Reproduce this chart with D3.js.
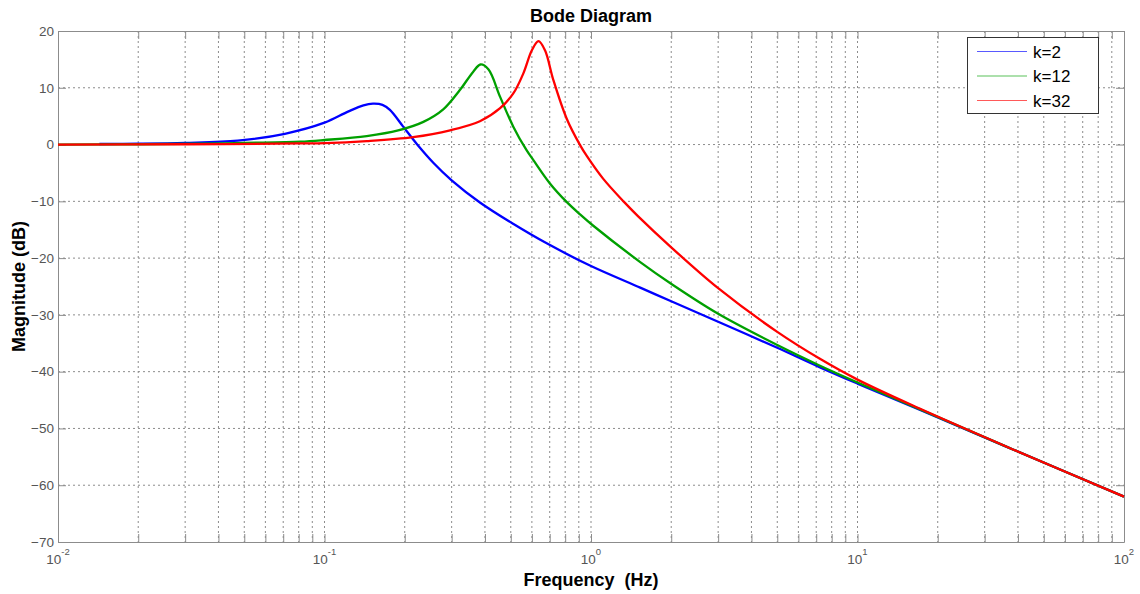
<!DOCTYPE html>
<html lang="en">
<head>
    <meta charset="UTF-8">
    <title>Bode Diagram</title>
    <script src="https://d3js.org/d3.v7.min.js"></script>
    <style>
        body { margin: 0; background: #fff; }
        svg { display: block; font-family: "Liberation Sans", Arial, sans-serif; }
        .grid line { stroke: #8c8c8c; stroke-width: 1; stroke-dasharray: 2,3; }
        .axis path, .axis line { stroke: #8c8c8c; }
        .axis text { fill: #555; font-size: 13.5px; }
        .curve { fill: none; stroke-width: 2.3px; stroke-linejoin: round; }
        .title, .axis-label { font-weight: bold; font-size: 18px; text-anchor: middle; fill: #000; white-space: pre; }
        .legend text { font-size: 17px; fill: #000; }
    </style>
</head>
<body>
    <div id="chart"></div>

    <script>
        // values (frequency in Hz, magnitude in dB)
        const freqK2 = [0.0143, 0.02, 0.03, 0.0473, 0.071, 0.1, 0.1225, 0.14, 0.152, 0.165, 0.176, 0.197, 0.222, 0.256, 0.3, 0.383, 0.512, 0.682, 1.0, 1.53, 2.0, 3.0, 5.0, 7.2, 10, 17.1, 38.3, 100];
        const magK2  = [0.1, 0.15, 0.3, 0.7, 1.9, 3.85, 5.8, 6.9, 7.2, 7.0, 6.1, 3.2, 0.1, -3.2, -6.3, -10.2, -14.0, -17.4, -21.4, -25.2, -27.6, -31.2, -35.8, -39.2, -42.1, -46.7, -53.7, -62.0];

        const freqK12 = [0.01, 0.02, 0.035, 0.05, 0.081, 0.1, 0.144, 0.189, 0.235, 0.279, 0.322, 0.361, 0.385, 0.412, 0.456, 0.511, 0.573, 0.607, 0.70, 0.81, 0.91, 1.02, 1.53, 2.01, 3.0, 5.0, 7.2, 10, 17.1, 38.3, 100];
        const magK12  = [0.0, 0.05, 0.15, 0.3, 0.5, 0.8, 1.5, 2.5, 4.0, 6.2, 9.6, 12.8, 14.1, 13.25, 8.4, 3.15, -1.0, -2.7, -6.8, -10.1, -12.3, -14.3, -20.7, -24.6, -29.8, -35.3, -38.9, -41.9, -46.6, -53.7, -62.0];

        const freqK32 = [0.01, 0.03, 0.081, 0.1, 0.144, 0.215, 0.296, 0.383, 0.456, 0.511, 0.557, 0.600, 0.635, 0.672, 0.722, 0.81, 0.91, 0.964, 1.11, 1.33, 1.5, 2.0, 3.0, 5.0, 7.2, 10, 17.1, 38.3, 100];
        const magK32  = [0.0, 0.05, 0.2, 0.25, 0.6, 1.3, 2.5, 4.1, 6.4, 9.0, 12.5, 16.6, 18.2, 16.6, 11.4, 4.6, -0.1, -2.0, -6.0, -10.1, -12.6, -18.1, -25.3, -33.0, -37.7, -41.4, -46.5, -53.7, -62.0];

        const seriesNames = ["k=2", "k=12", "k=32"];
        const seriesColors = ["#0000ff", "#00a000", "#ff0000"];
        const magTicks = [20, 10, 0, -10, -20, -30, -40, -50, -60, -70];
        const decadeExponents = [-2, -1, 0, 1, 2];

        const width = 1140, height = 594;
        const plotLeft = 58, plotRight = 1124, plotTop = 31, plotBottom = 542;

        const svg = d3.select("#chart").append("svg")
            .attr("width", width)
            .attr("height", height);

        const xScale = d3.scaleLog()
            .domain([0.01, 100])
            .range([plotLeft, plotRight]);

        const yScale = d3.scaleLinear()
            .domain([-70, 20])
            .range([plotBottom, plotTop]);

        const allFreqTicks = xScale.ticks();
        const majorFreqTicks = decadeExponents.map(e => Math.pow(10, e));

        // grid
        const grid = svg.append("g").attr("class", "grid");
        grid.selectAll(".vgrid")
            .data(allFreqTicks.filter(f => f > 0.011 && f < 99))
            .enter().append("line")
            .attr("x1", d => xScale(d)).attr("x2", d => xScale(d))
            .attr("y1", plotTop).attr("y2", plotBottom);
        grid.selectAll(".hgrid")
            .data(magTicks.filter(m => m > -70 && m < 20))
            .enter().append("line")
            .attr("x1", plotLeft).attr("x2", plotRight)
            .attr("y1", d => yScale(d)).attr("y2", d => yScale(d));

        // axes with inward ticks on all four sides
        svg.append("g").attr("class", "axis")
            .attr("transform", `translate(0,${plotBottom})`)
            .call(d3.axisBottom(xScale).tickValues(allFreqTicks).tickSize(-8).tickSizeOuter(0).tickFormat(""));
        svg.append("g").attr("class", "axis")
            .attr("transform", `translate(0,${plotTop})`)
            .call(d3.axisTop(xScale).tickValues(allFreqTicks).tickSize(-8).tickSizeOuter(0).tickFormat(""));
        svg.append("g").attr("class", "axis")
            .attr("transform", `translate(${plotLeft},0)`)
            .call(d3.axisLeft(yScale).tickValues(magTicks).tickSize(-8).tickSizeOuter(0).tickPadding(4).tickFormat(d3.format("d")));
        svg.append("g").attr("class", "axis")
            .attr("transform", `translate(${plotRight},0)`)
            .call(d3.axisRight(yScale).tickValues(magTicks).tickSize(-8).tickSizeOuter(0).tickFormat(""));

        // x tick labels as 10 with superscript exponent
        const xLabels = svg.append("g").attr("class", "axis");
        majorFreqTicks.forEach((f, i) => {
            const t = xLabels.append("text")
                .attr("x", xScale(f))
                .attr("y", 564)
                .attr("text-anchor", "middle");
            t.append("tspan").text("10");
            t.append("tspan")
                .attr("dy", -9)
                .style("font-size", "9.5px")
                .text(decadeExponents[i]);
        });

        // curves
        const line = d3.line()
            .x(d => xScale(d[0]))
            .y(d => yScale(d[1]))
            .curve(d3.curveCatmullRom.alpha(0.5));

        const series = [
            d3.zip(freqK2, magK2),
            d3.zip(freqK12, magK12),
            d3.zip(freqK32, magK32)
        ];

        series.forEach((pts, i) => {
            svg.append("path")
                .datum(pts)
                .attr("class", "curve")
                .attr("stroke", seriesColors[i])
                .attr("d", line);
        });

        // legend
        const legend = svg.append("g").attr("class", "legend");
        legend.append("rect")
            .attr("x", 967.5).attr("y", 37.5)
            .attr("width", 131).attr("height", 76)
            .attr("fill", "#fff").attr("stroke", "#333");
        seriesNames.forEach((name, i) => {
            const y = 51.5 + i * 24.5;
            legend.append("line")
                .attr("x1", 977).attr("x2", 1027)
                .attr("y1", y).attr("y2", y)
                .attr("stroke", seriesColors[i])
                .attr("stroke-opacity", 0.65);
            legend.append("text")
                .attr("x", 1033).attr("y", y + 6)
                .text(name);
        });

        // titles
        svg.append("text")
            .attr("class", "title")
            .attr("x", (plotLeft + plotRight) / 2)
            .attr("y", 22)
            .text("Bode Diagram");

        svg.append("text")
            .attr("class", "axis-label")
            .attr("x", (plotLeft + plotRight) / 2)
            .attr("y", 586)
            .text("Frequency  (Hz)");

        svg.append("text")
            .attr("class", "axis-label")
            .attr("transform", `translate(25,${(plotTop + plotBottom) / 2}) rotate(-90)`)
            .text("Magnitude (dB)");
    </script>
</body>
</html>
